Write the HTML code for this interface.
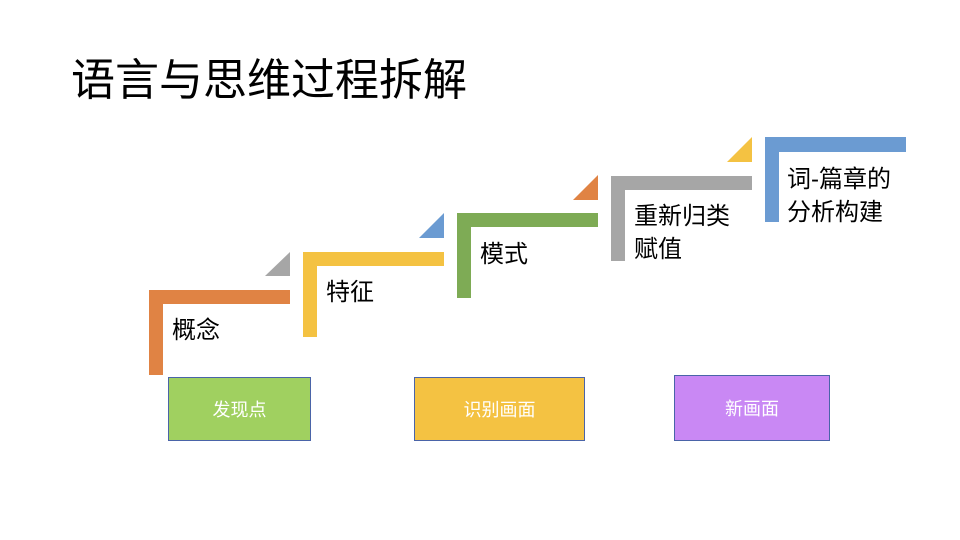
<!DOCTYPE html>
<html><head><meta charset="utf-8"><style>
body{margin:0;width:960px;height:540px;background:#fff;position:relative;overflow:hidden;font-family:"Liberation Sans","Noto Sans CJK SC",sans-serif}
.a{position:absolute}
.t{position:absolute;font-size:24px;color:#000;line-height:33px;white-space:nowrap}
.b{position:absolute;border:1px solid #4a64a8;color:#fff;font-size:18px;display:flex;align-items:center;justify-content:center;box-sizing:border-box}
</style></head><body>
<div class="a" style="left:71px;top:53px;font-size:44px;line-height:56px">语言与思维过程拆解</div>
<svg class="a" style="left:0;top:0" width="960" height="540">
<path d="M149 375V290H290V304H163V375Z" fill="#e08344"/>
<path d="M290 252V276H265Z" fill="#a6a6a6"/>
<path d="M303 337V252H444V266H317V337Z" fill="#f4c242"/>
<path d="M444 213V238H419Z" fill="#6b9bd2"/>
<path d="M457 298V213H598V227H471V298Z" fill="#7eab55"/>
<path d="M598 175V200H573Z" fill="#e08344"/>
<path d="M611 261V176H752V190H625V261Z" fill="#a6a6a6"/>
<path d="M752 137V162H727Z" fill="#f4c242"/>
<path d="M765 222V137H906V152H779V222Z" fill="#6b9bd2"/>
</svg>
<div class="t" style="left:172px;top:314px">概念</div>
<div class="t" style="left:326px;top:276px">特征</div>
<div class="t" style="left:480px;top:238px">模式</div>
<div class="t" style="left:634px;top:200px">重新归类<br>赋值</div>
<div class="t" style="left:787px;top:163px">词-篇章的<br>分析构建</div>
<div class="b" style="left:168px;top:377px;width:143px;height:64px;background:#a0d060">发现点</div>
<div class="b" style="left:414px;top:377px;width:171px;height:64px;background:#f4c242">识别画面</div>
<div class="b" style="left:674px;top:375px;width:156px;height:66px;background:#c988f4">新画面</div>
</body></html>
